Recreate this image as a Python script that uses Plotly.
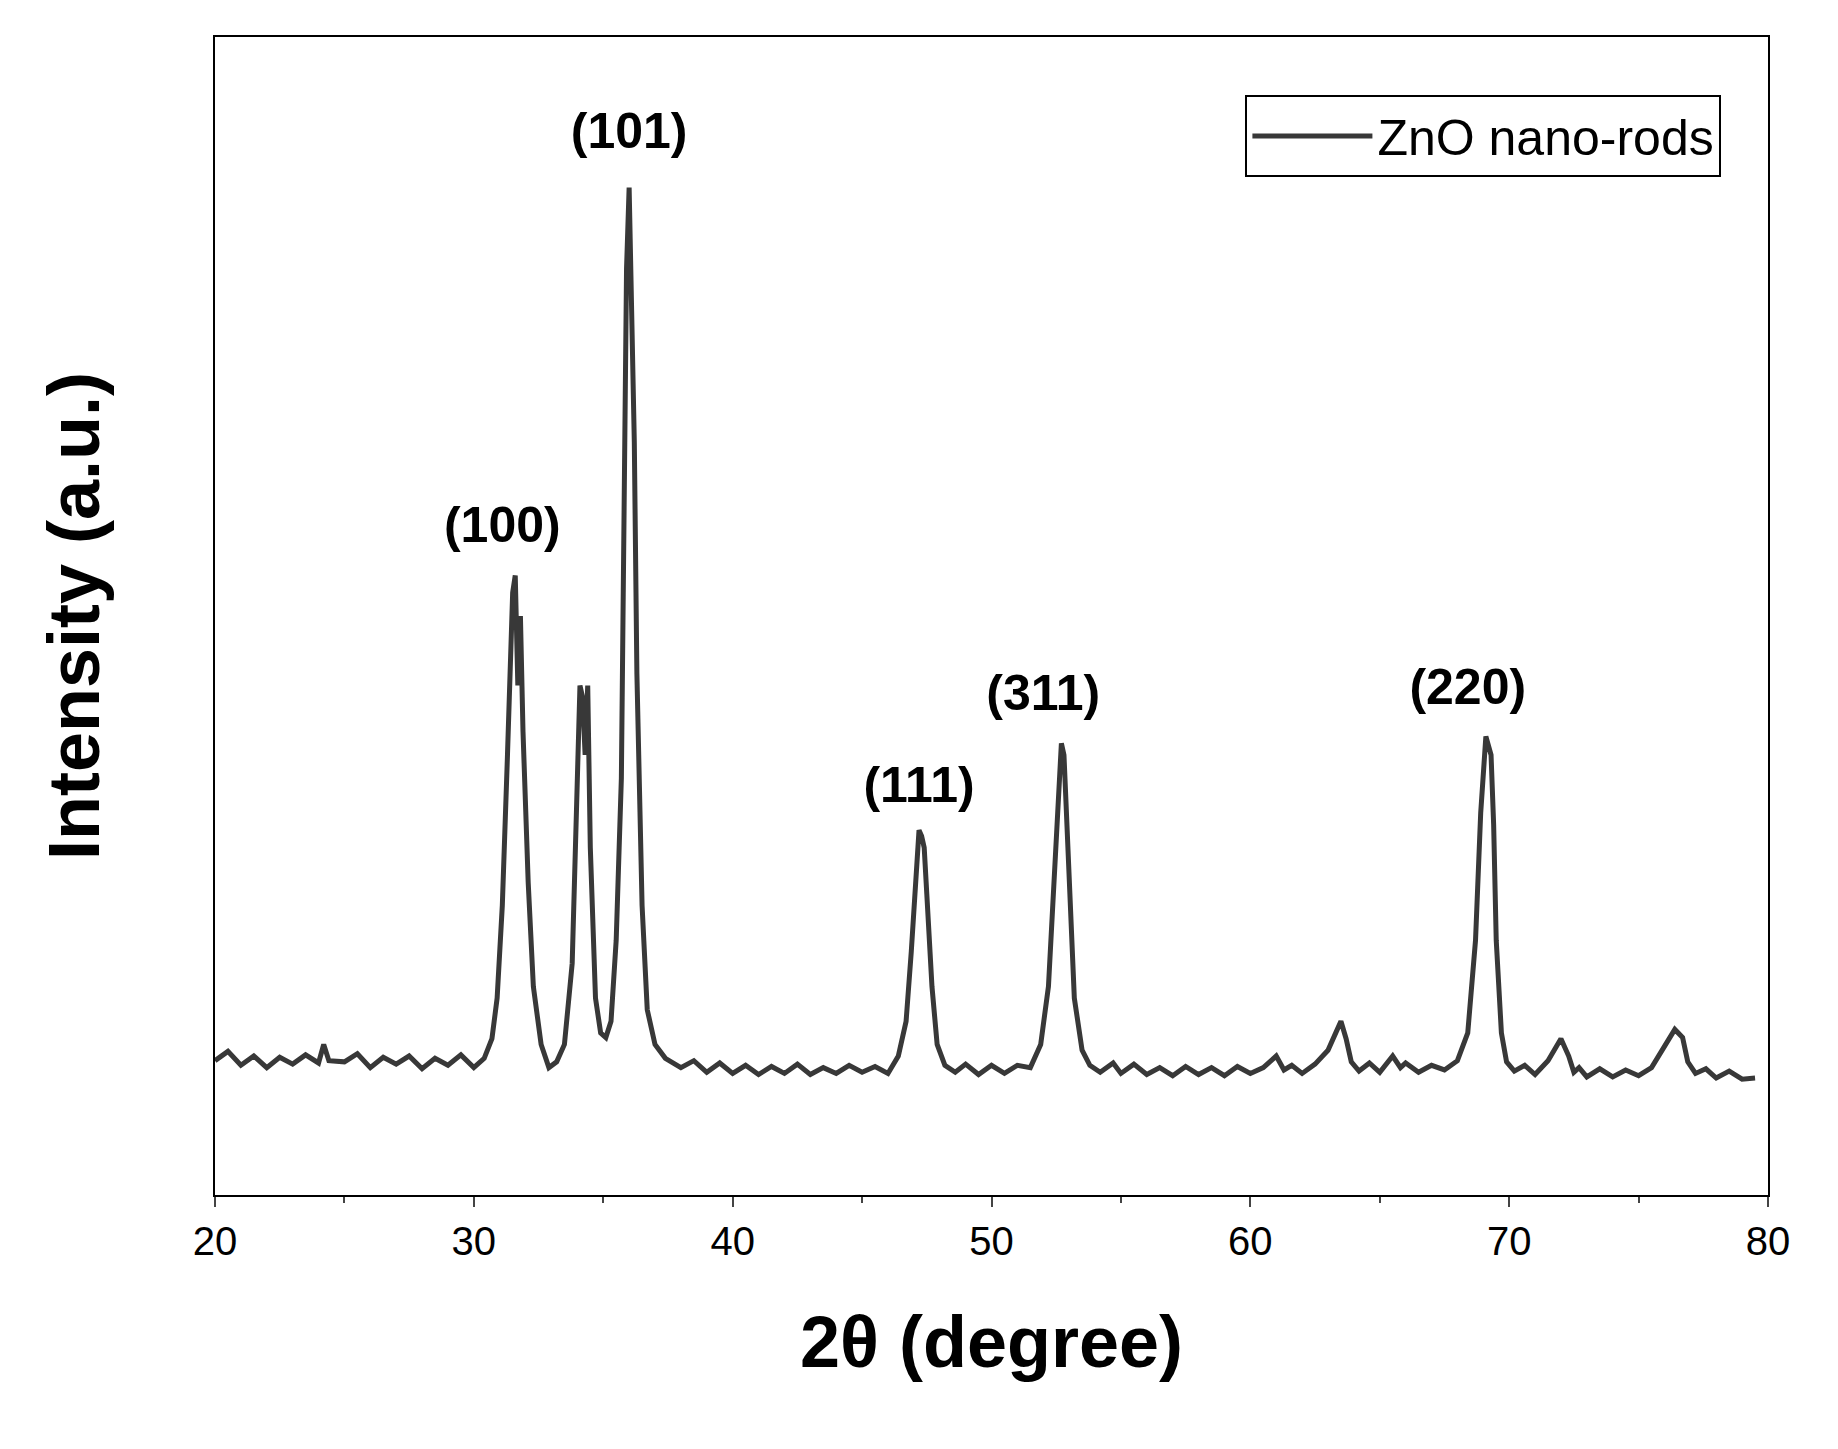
import plotly.graph_objects as go

two_theta = [20.0,20.5,21.0,21.5,22.0,22.5,23.0,23.5,24.0,24.2,24.4,25.0,25.5,26.0,26.5,27.0,27.5,28.0,28.5,29.0,29.5,30.0,30.4,30.7,30.9,31.1,31.3,31.5,31.6,31.7,31.8,31.9,32.1,32.3,32.6,32.9,33.2,33.5,33.8,34.0,34.1,34.2,34.3,34.4,34.5,34.7,34.9,35.1,35.3,35.5,35.7,35.8,35.9,36.0,36.1,36.2,36.3,36.5,36.7,37.0,37.4,38.0,38.5,39.0,39.5,40.0,40.5,41.0,41.5,42.0,42.5,43.0,43.5,44.0,44.5,45.0,45.5,46.0,46.4,46.7,46.9,47.1,47.2,47.3,47.4,47.5,47.7,47.9,48.2,48.6,49.0,49.5,50.0,50.5,51.0,51.5,51.9,52.2,52.4,52.6,52.7,52.8,52.9,53.0,53.2,53.5,53.8,54.2,54.7,55.0,55.5,56.0,56.5,57.0,57.5,58.0,58.5,59.0,59.5,60.0,60.5,61.0,61.3,61.6,62.0,62.5,63.0,63.3,63.5,63.7,63.9,64.2,64.6,65.0,65.5,65.8,66.0,66.5,67.0,67.5,68.0,68.4,68.7,68.9,69.1,69.3,69.4,69.5,69.7,69.9,70.2,70.6,71.0,71.5,72.0,72.3,72.5,72.7,73.0,73.5,74.0,74.5,75.0,75.5,76.0,76.4,76.7,76.9,77.2,77.6,78.0,78.5,79.0,79.5,80.0]
intensity = [11.6,12.4,11.2,12.0,11.0,11.9,11.3,12.1,11.4,13.0,11.6,11.5,12.2,11.0,11.9,11.3,12.0,10.9,11.8,11.2,12.1,11.0,11.8,13.5,17,25,38,52,53.5,44,50,40,27,18,13,11,11.5,13,20,35,44,43,38,44,30,17,14,13.6,15,22,36,58,80,87,78,65,45,25,16,13,11.8,11.0,11.6,10.6,11.4,10.5,11.2,10.4,11.1,10.5,11.3,10.4,11.0,10.5,11.2,10.6,11.1,10.5,12.0,15,21,28,31.5,31,30,26,18,13,11.2,10.6,11.3,10.4,11.2,10.5,11.2,11.0,13,18,26,34,39,38,33,26,17,12.5,11.2,10.6,11.4,10.5,11.3,10.4,11.0,10.3,11.1,10.4,11.0,10.3,11.1,10.5,11.0,12.0,10.8,11.2,10.5,11.3,12.5,14.0,15.0,13.5,11.5,10.7,11.4,10.6,12.0,11.0,11.4,10.6,11.2,10.8,11.6,14,22,33,39.6,38,32,22,14,11.5,10.7,11.2,10.4,11.6,13.5,12.0,10.6,11.0,10.2,10.9,10.2,10.8,10.3,11.0,12.8,14.3,13.6,11.5,10.5,10.9,10.1,10.7,10.0,10.1]

peak_labels = ["(100)","(101)","(111)","(311)","(220)"]
peak_x = [31.1,36.0,47.2,52.0,68.4]
peak_y = [57.5,91.5,35.0,43.0,43.5]

fig = go.Figure()
fig.add_trace(go.Scatter(x=two_theta, y=intensity, mode="lines", name="ZnO nano-rods",
                         line=dict(color="#383838", width=5)))
fig.add_trace(go.Scatter(x=peak_x, y=peak_y, mode="text", text=peak_labels, showlegend=False,
                         texttemplate="<b>%{text}</b>",
                         textfont=dict(family="Liberation Sans", size=50, color="black")))

fig.update_layout(
    width=1838, height=1449, plot_bgcolor="white", paper_bgcolor="white",
    margin=dict(l=207, r=78, t=29, b=262),
    font=dict(family="Liberation Sans", color="black"),
    showlegend=True,
    legend=dict(x=0.97, y=0.95, xanchor="right", yanchor="top", bordercolor="black", borderwidth=2,
                font=dict(size=50), bgcolor="white", itemwidth=120),
    xaxis=dict(range=[20,80], tickvals=[20,30,40,50,60,70,80], ticks="outside", ticklen=10,
               tickwidth=2, minor=dict(dtick=5, ticks="outside", ticklen=6, tickwidth=2),
               tickfont=dict(size=40), showline=True, linewidth=2, linecolor="black", mirror=True,
               showgrid=False, zeroline=False,
               title=dict(text="<b>2θ (degree)</b>", font=dict(size=72), standoff=55)),
    yaxis=dict(range=[0,100], showticklabels=False, ticks="", showline=True, linewidth=2,
               linecolor="black", mirror=True, showgrid=False, zeroline=False,
               title=dict(text="<b>Intensity (a.u.)</b>", font=dict(size=72), standoff=90)),
)
fig.write_html("out.html")
